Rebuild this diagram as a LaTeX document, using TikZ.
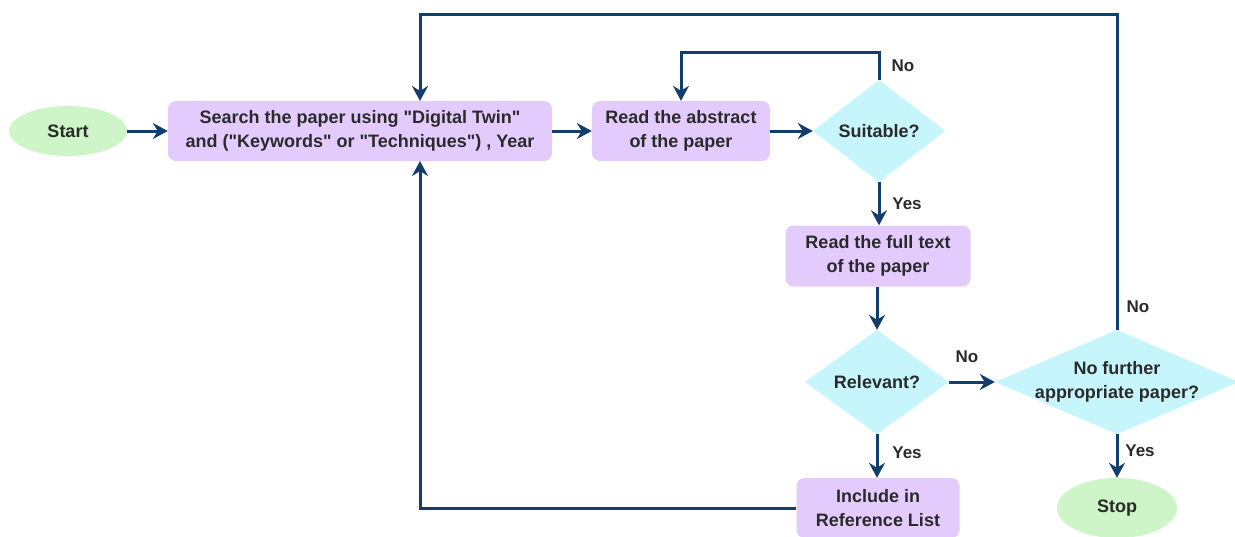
\documentclass[tikz,border=0pt]{standalone}
\usepackage{fontspec}
\setmainfont{Liberation Sans}[Ligatures=TeXOff]
\usetikzlibrary{shapes.geometric,arrows.meta}
\definecolor{linec}{HTML}{133D6C}
\definecolor{procfill}{HTML}{E3CCFD}
\definecolor{decfill}{HTML}{C6F6FC}
\definecolor{termfill}{HTML}{CDF5C8}
\definecolor{txt}{HTML}{2A2A2A}
\tikzset{
  every node/.style={text=txt,font=\fontsize{18}{24}\selectfont\bfseries},
  proc/.style={draw=none,fill=procfill,rounded corners=8pt,align=center,inner sep=0pt},
  term/.style={draw=none,fill=termfill,ellipse,inner sep=0pt},
  conn/.style={draw=linec,line width=3pt,-{Stealth[length=15pt,width=16pt,inset=5pt]}},
  lab/.style={font=\fontsize{17}{20}\selectfont\bfseries}
}
\begin{document}
\begin{tikzpicture}[x=1pt,y=-1pt]
\useasboundingbox (0,0) rectangle (1235,536);
% terminals
\node[term,minimum width=118pt,minimum height=50pt] (start) at (68,131) {Start};
\node[term,minimum width=120pt,minimum height=60pt] (stop) at (1117,508) {Stop};
% process boxes
\node[proc,minimum width=384pt,minimum height=60pt] (search) at (360,131)
  {Search the paper using "Digital Twin"\\and ("Keywords" or "Techniques") , Year};
\node[proc,minimum width=178pt,minimum height=60pt] (abstract) at (681,131)
  {Read the abstract\\of the paper};
\node[proc,minimum width=185pt,minimum height=61pt] (full) at (878,256)
  {Read the full text\\of the paper};
\node[proc,minimum width=163pt,minimum height=60pt] (include) at (878,508)
  {Include in\\Reference List};
% decisions (explicit diamonds for exact proportions)
\fill[decfill] (813,131) -- (879,80) -- (945,131) -- (879,182) -- cycle;
\node (suitable) at (879,131) [minimum width=132pt,minimum height=102pt,inner sep=0pt] {Suitable?};
\fill[decfill] (805,382) -- (877,330) -- (949,382) -- (877,434) -- cycle;
\node (relevant) at (877,382) [minimum width=144pt,minimum height=104pt,inner sep=0pt] {Relevant?};
\fill[decfill] (995,382) -- (1117,330) -- (1239,382) -- (1117,434) -- cycle;
\node (further) at (1117,382) [minimum width=244pt,minimum height=104pt,inner sep=0pt,align=center] {No further\\appropriate paper?};
% connectors
\draw[conn] (start.east) -- (search.west);
\draw[conn] (search.east) -- (abstract.west);
\draw[conn] (abstract.east) -- (suitable.west);
\draw[conn] (suitable.north) -- (879,52) -| (abstract.north);
\draw[conn] (suitable.south) -- (full.north -| suitable.south);
\draw[conn] (full.south -| relevant.north) -- (relevant.north);
\draw[conn] (relevant.east) -- (further.west);
\draw[conn] (relevant.south) -- (include.north -| relevant.south);
\draw[conn] (further.south) -- (stop.north);
\coordinate (sb) at (420,161);
\coordinate (st) at (420,101);
\draw[conn] (include.west) -| (sb);
\draw[conn] (further.north) -- (1117,14) -| (st);
% labels
\node[lab] at (903,66) {No};
\node[lab] at (907,204) {Yes};
\node[lab] at (967,357) {No};
\node[lab] at (907,453) {Yes};
\node[lab] at (1138,307) {No};
\node[lab] at (1140,451) {Yes};
\end{tikzpicture}
\end{document}
